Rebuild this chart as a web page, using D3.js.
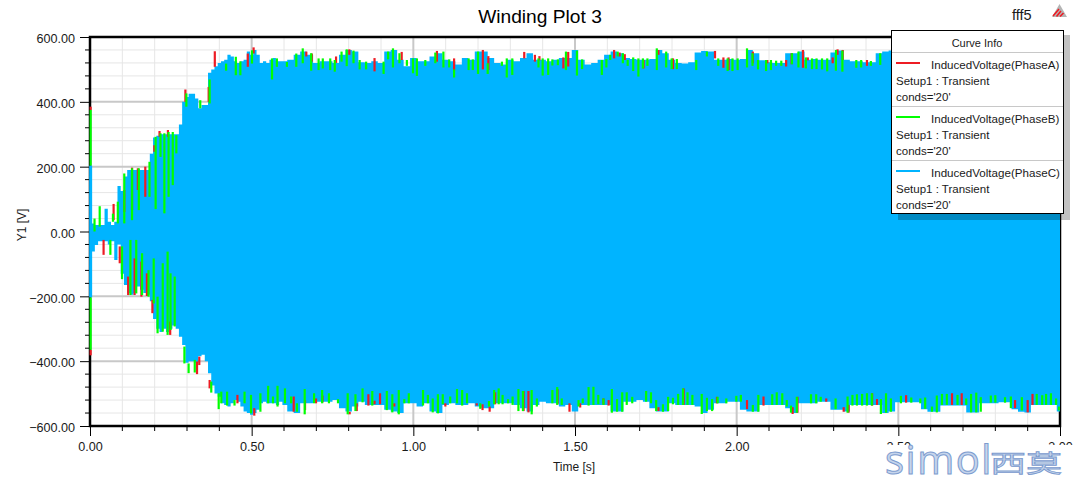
<!DOCTYPE html>
<html><head><meta charset="utf-8">
<style>html,body{margin:0;padding:0;background:#fff}svg{display:block}text{font-family:"Liberation Sans",Arial,sans-serif;fill:#1a1a1a}</style>
<script src="https://cdn.jsdelivr.net/npm/d3@7"></script></head><body>
<script>
const title="Winding Plot 3", project="fff5", xLabel="Time [s]", yLabel="Y1 [V]";
const yTicks=[600,400,200,0,-200,-400,-600];
const xTicks=[0,0.5,1,1.5,2,2.5,3];
const legendNames=["InducedVoltage(PhaseA)","InducedVoltage(PhaseB)","InducedVoltage(PhaseC)"];
const colors=["#ed1c24","#00ff00","#00b4ff"];
// Phase C envelope, 0.00-0.59 s every 0.01 s
const earlyUpper=[203,25,20,20,20,70,30,20,30,140,125,170,190,190,190,190,190,190,190,240,290,295,300,300,300,300,300,300,330,400,415,425,425,410,380,390,390,490,500,510,520,525,530,545,540,525,520,525,530,555,545,560,545,520,525,520,530,535,525,525];
const earlyLower=[-200,-62,-42,-30,-30,-30,-40,-30,-88,-40,-130,-165,-190,-195,-190,-170,-180,-190,-195,-215,-270,-300,-310,-300,-310,-300,-290,-300,-325,-350,-405,-400,-400,-405,-385,-380,-400,-437,-475,-500,-510,-530,-535,-540,-530,-520,-525,-540,-555,-560,-565,-560,-550,-530,-525,-530,-530,-530,-535,-525];
// Phase C envelope, 0.60-3.00 s every 0.02 s
const lateUpper=[525,530,545,555,545,520,525,525,520,545,560,555,522,520,525,520,555,560,530,510,535,525,525,540,550,530,525,515,535,530,555,555,535,520,515,530,525,535,550,530,530,525,530,535,535,560,530,515,520,530,545,555,550,535,532,530,530,532,560,550,530,520,518,522,552,557,555,530,530,532,530,532,560,550,528,522,520,520,550,550,555,530,532,530,530,552,558,530,525,525,522,522,550,555,558,540,530,530,545,530,540,530,525,535,540,530,530,540,535,530,525,540,545,530,530,535,540,530,525,535,535];
const lateLower=[-535,-555,-560,-530,-530,-525,-525,-525,-520,-545,-555,-540,-525,-535,-535,-535,-550,-555,-560,-530,-530,-540,-530,-555,-560,-535,-530,-535,-535,-530,-540,-545,-545,-530,-530,-530,-535,-545,-555,-535,-525,-530,-530,-540,-535,-555,-535,-535,-535,-535,-535,-555,-555,-525,-525,-520,-525,-545,-555,-555,-530,-535,-535,-535,-540,-560,-550,-530,-530,-525,-525,-550,-555,-555,-535,-535,-535,-535,-545,-560,-530,-530,-530,-525,-525,-550,-550,-555,-535,-535,-535,-535,-535,-560,-555,-527,-527,-527,-527,-548,-556,-556,-537,-537,-537,-537,-558,-558,-530,-530,-530,-527,-527,-548,-556,-558,-535,-535,-535,-535,-555];
// [time, outer peak, inner end] of the visible parts of each phase
const phaseCEdge=[[0.002,203,-203]];
const phaseBUpper=[[0.002,375,203],[.014,40,0],[.03,78,15],[.071,55,30],[.086,92,25],[.106,179,25],[.13,195,35],[.151,195,66],[.184,215,107],[.203,292,69],[.218,303,230],[.23,303,56],[.243,307,107],[.256,307,143],[.267,297,241],[.298,426,385],[.341,405,380],[.37,469,395],[.421,518,496],[.451,539,482],[.465,525,482],[.501,559,518],[.563,534,469],[.578,534,508],[.609,523,508],[.638,549,508],[.658,565,519],[.684,550,496],[.707,534,498],[.72,534,503],[.743,534,498],[.757,529,493],[.778,555,524],[.794,562,510],[.815,558,519],[.834,529,500],[.854,524,500],[.908,524,486],[.922,555,531],[.937,565,506],[.957,550,519],[.98,529,511],[.999,534,488],[1.011,534,480],[1.037,529,511],[1.068,552,519],[1.093,555,506],[1.111,531,506],[1.126,500,475],[1.171,534,498],[1.184,531,498],[1.2,555,486],[1.23,519,486],[1.274,524,511],[1.289,534,475],[1.306,534,483],[1.387,534,506],[1.4,534,481],[1.417,534,483],[1.43,531,512],[1.447,531,513],[1.472,555,498],[1.506,558,481],[1.522,531,501],[1.583,529,483],[1.597,532,506],[1.609,545,529],[1.632,555,540],[1.648,550,519],[1.663,529,511],[1.68,537,495],[1.696,534,478],[1.71,534,503],[1.724,534,511],[1.753,565,498],[1.782,555,506],[1.799,534,501],[1.815,532,501],[1.875,529,498],[1.908,555,540],[1.943,534,511],[1.972,534,495],[1.987,534,495],[2.003,534,498],[2.032,565,506],[2.049,550,511],[2.066,529,500],[2.091,529,495],[2.106,529,498],[2.122,527,511],[2.138,527,511],[2.171,550,516],[2.191,555,506],[2.214,537,503],[2.233,534,501],[2.247,534,501],[2.264,534,500],[2.28,534,494],[2.307,560,496],[2.327,558,493],[2.37,529,505],[2.385,529,506],[2.415,526,511],[2.444,550,514]];
const phaseAUpper=[[0.002,385,375],[.073,85,35],[.106,128,60],[.13,197,66],[.148,195,128],[.171,200,107],[.199,266,246],[.215,310,292],[.241,313,292],[.295,438,400],[.367,446,400],[.386,556,508],[.488,549,508],[.506,568,549],[.669,555,540],[.686,549,524],[.761,540,520],[.802,562,545],[.88,535,494],[.964,554,529],[1.073,557,524],[1.126,534,496],[1.215,560,500],[1.232,541,498],[1.343,554,534],[1.376,545,524],[1.39,541,528],[1.464,537,503],[1.479,554,509],[1.621,560,534],[1.638,552,540],[1.654,547,529],[1.712,529,503],[1.758,560,545],[1.803,534,501],[1.933,557,534],[1.959,537,505],[1.975,537,498],[2.05,555,519],[2.095,529,519],[2.153,529,509],[2.17,550,516],[2.205,560,505],[2.22,537,528],[2.297,537,519],[2.312,562,545],[2.328,560,529],[2.403,529,511]];
const phaseBLower=[[0.002,-365,-203],[.063,-72,-26],[.099,-147,-46],[.125,-196,-26],[.143,-191,-26],[.161,-196,-67],[.181,-201,-119],[.197,-222,-83],[.209,-314,-201],[.225,-309,-98],[.24,-319,-62],[.249,-304,-129],[.262,-293,-139],[.292,-407,-355],[.305,-437,-407],[.324,-435,-396],[.375,-497,-463],[.398,-548,-499],[.406,-530,-494],[.424,-537,-494],[.447,-537,-520],[.478,-530,-494],[.498,-561,-504],[.527,-556,-499],[.551,-530,-476],[.566,-530,-509],[.58,-540,-476],[.603,-530,-484],[.622,-530,-509],[.64,-556,-530],[.664,-564,-486],[.693,-530,-499],[.718,-530,-489],[.739,-530,-499],[.767,-530,-517],[.797,-564,-499],[.821,-554,-502],[.843,-527,-484],[.873,-537,-492],[.918,-551,-492],[.935,-558,-502],[.955,-564,-489],[.972,-530,-517],[.986,-530,-499],[1.03,-537,-489],[1.045,-530,-504],[1.06,-558,-515],[1.076,-561,-502],[1.091,-533,-502],[1.114,-530,-509],[1.135,-530,-486],[1.151,-537,-489],[1.166,-530,-499],[1.207,-547,-530],[1.234,-540,-523],[1.25,-533,-489],[1.264,-533,-484],[1.276,-533,-504],[1.293,-530,-517],[1.307,-535,-509],[1.325,-554,-486],[1.339,-554,-492],[1.366,-564,-489],[1.382,-540,-515],[1.43,-530,-489],[1.445,-535,-480],[1.459,-535,-515],[1.511,-540,-520],[1.524,-530,-515],[1.542,-537,-480],[1.557,-535,-479],[1.572,-533,-504],[1.588,-535,-515],[1.614,-559,-486],[1.63,-556,-517],[1.646,-556,-496],[1.66,-535,-496],[1.677,-530,-510],[1.72,-525,-492],[1.735,-530,-496],[1.751,-554,-520],[1.772,-556,-533],[1.788,-554,-510],[1.803,-533,-513],[1.819,-535,-501],[1.834,-535,-484],[1.848,-535,-496],[1.863,-535,-504],[1.892,-563,-501],[1.908,-554,-513],[1.924,-554,-517],[1.941,-530,-510],[1.968,-530,-515],[1.999,-525,-507],[2.013,-525,-504],[2.05,-556,-535],[2.067,-556,-504],[2.11,-535,-502],[2.124,-535,-496],[2.141,-535,-499],[2.155,-540,-520],[2.168,-559,-537],[2.186,-559,-510],[2.23,-530,-502],[2.246,-530,-502],[2.26,-525,-510],[2.306,-548,-515],[2.343,-559,-509],[2.358,-537,-504],[2.372,-537,-502],[2.388,-537,-501],[2.403,-537,-499],[2.418,-537,-499],[2.446,-563,-517],[2.462,-559,-499],[2.477,-556,-515],[2.508,-530,-507],[2.54,-528,-512],[2.568,-530,-515],[2.583,-547,-512],[2.604,-556,-540],[2.619,-558,-506],[2.635,-535,-501],[2.65,-535,-501],[2.683,-535,-504],[2.71,-535,-515],[2.725,-558,-501],[2.741,-558,-497],[2.755,-556,-511],[2.786,-528,-506],[2.8,-528,-505],[2.83,-528,-511],[2.848,-545,-509],[2.882,-552,-511],[2.928,-535,-501],[2.945,-535,-505],[2.957,-535,-501],[2.972,-535,-499],[2.988,-535,-515],[2.997,-552,-540]];
const phaseALower=[[0.002,-382,-365],[.042,-72,-26],[.092,-98,-46],[.118,-196,-139],[.138,-196,-83],[.159,-201,-93],[.176,-199,-129],[.193,-252,-211],[.248,-319,-278],[.331,-440,-401],[.338,-412,-386],[.37,-484,-458],[.456,-530,-504],[.508,-568,-545],[.63,-556,-509],[.665,-551,-520],[.699,-530,-515],[.719,-527,-506],[.803,-564,-556],[.825,-554,-530],[.861,-537,-502],[.88,-533,-522],[.897,-533,-499],[.941,-540,-530],[1.099,-540,-530],[1.196,-537,-530],[1.214,-551,-533],[1.236,-556,-540],[1.253,-533,-496],[1.341,-554,-492],[1.356,-558,-492],[1.446,-533,-486],[1.483,-556,-530],[1.516,-543,-530],[1.588,-533,-515],[1.604,-537,-520],[1.758,-554,-542],[1.836,-535,-484],[1.939,-530,-510],[2.032,-548,-520],[2.083,-537,-509],[2.173,-563,-542],[2.188,-559,-510],[2.277,-525,-515],[2.331,-556,-542],[2.346,-559,-535],[2.419,-537,-499],[2.434,-535,-517],[2.524,-528,-505],[2.666,-535,-499],[2.696,-535,-499],[2.861,-545,-520],[2.9,-558,-520],[2.915,-535,-501]];

const W=1081,H=480,pL=90,pR=1060,pT=37,pB=426;
const svg=d3.select("body").append("svg").attr("width",W).attr("height",H);
const x=d3.scaleLinear().domain([0,3]).range([pL,pR]);
const y=d3.scaleLinear().domain([-600,600]).range([pB,pT]);

// grid
const minorX=d3.range(0,3.0001,0.1).filter(v=>Math.abs(v*2-Math.round(v*2))>1e-6);
const minorY=d3.range(-600,600.1,40).filter(v=>v%200!==0);
const grid=svg.append("g");
grid.append("g").selectAll("line").data(minorX).join("line").attr("x1",d=>x(d)).attr("x2",d=>x(d)).attr("y1",pT).attr("y2",pB).attr("stroke","#e6e6e6");
grid.append("g").selectAll("line").data(minorY).join("line").attr("x1",pL).attr("x2",pR).attr("y1",d=>y(d)).attr("y2",d=>y(d)).attr("stroke","#e6e6e6");
grid.append("g").selectAll("line").data(xTicks.slice(1,-1)).join("line").attr("x1",d=>x(d)).attr("x2",d=>x(d)).attr("y1",pT).attr("y2",pB).attr("stroke","#c8c8c8").attr("stroke-width",2);
grid.append("g").selectAll("line").data(yTicks.slice(1,-1)).join("line").attr("x1",pL).attr("x2",pR).attr("y1",d=>y(d)).attr("y2",d=>y(d)).attr("stroke","#c8c8c8").attr("stroke-width",2);

// axes
const fmt=d3.format(".2f");
const ax=svg.append("g").attr("transform",`translate(0,${pB})`).call(d3.axisBottom(x).tickValues(xTicks).tickFormat(fmt).tickSize(10).tickPadding(6));
const ay=svg.append("g").attr("transform",`translate(${pL},0)`).call(d3.axisLeft(y).tickValues(yTicks).tickFormat(fmt).tickSize(10).tickPadding(5));
[ax,ay].forEach(a=>{a.select(".domain").remove();a.selectAll("line").attr("stroke","#000").attr("stroke-width",1);a.selectAll("text").attr("font-size",12.6).attr("font-family","Liberation Sans").style("fill","#1a1a1a");});
ay.selectAll("text").attr("dy","0.45em");
svg.append("g").selectAll("line").data(minorX).join("line").attr("x1",d=>x(d)).attr("x2",d=>x(d)).attr("y1",pB).attr("y2",pB+5).attr("stroke","#000");
svg.append("g").selectAll("line").data(minorY).join("line").attr("x1",pL-5).attr("x2",pL).attr("y1",d=>y(d)).attr("y2",d=>y(d)).attr("stroke","#000");
svg.append("rect").attr("x",pL).attr("y",pT).attr("width",pR-pL).attr("height",pB-pT).attr("fill","none").attr("stroke","#000").attr("stroke-width",2.5);

// curves
svg.append("defs").append("clipPath").attr("id","plot").append("rect").attr("x",pL-1).attr("y",pT).attr("width",pR-pL+1).attr("height",pB-pT);
const marks=svg.append("g").attr("clip-path","url(#plot)");
const env=[...earlyUpper.map((u,i)=>({t:i/100,u,l:earlyLower[i]})),...lateUpper.map((u,i)=>({t:0.6+i*0.02,u,l:lateLower[i]}))];
marks.append("path").datum(env).attr("fill",colors[2]).attr("d",d3.area().curve(d3.curveStep).x(d=>x(d.t)).y0(d=>y(d.l)).y1(d=>y(d.u)));
const stripes=(data,c,w)=>marks.append("g").selectAll("line").data(data).join("line")
  .attr("x1",d=>x(d[0])).attr("x2",d=>x(d[0])).attr("y1",d=>y(d[1])).attr("y2",d=>y(d[2])).attr("stroke",c).attr("stroke-width",w);
stripes(phaseAUpper,colors[0],2.2);stripes(phaseALower,colors[0],2.2);
stripes(phaseBUpper,colors[1],2.2);stripes(phaseBLower,colors[1],2.2);
stripes(phaseCEdge,colors[2],3);

// titles
svg.append("text").attr("x",540).attr("y",23).attr("text-anchor","middle").attr("font-size",19.2).style("fill","#000").text(title);
svg.append("text").attr("x",1012).attr("y",20).attr("font-size",14.5).text(project);
svg.append("text").attr("x",574).attr("y",471).attr("text-anchor","middle").attr("font-size",12).text(xLabel);
svg.append("text").attr("transform","translate(26,225) rotate(-90)").attr("text-anchor","middle").attr("font-size",12).text(yLabel);

// logo
svg.append("path").attr("d","M1059.5 4 L1067 17 L1052 17 Z").attr("fill","#b4b4b4");
svg.append("path").attr("d","M1053 16 L1059 9 M1056.5 16.5 L1061 11 M1060 16.5 L1063.5 13").attr("stroke","#ed1c24").attr("stroke-width",1.6).attr("fill","none");

// legend
const L=svg.append("g");
L.append("rect").attr("x",898).attr("y",35).attr("width",172).attr("height",185).attr("fill","#000").attr("opacity",0.24);
L.append("rect").attr("x",891.5).attr("y",30.5).attr("width",172).attr("height",183).attr("fill","#fff").attr("stroke","#000");
L.append("text").attr("x",977).attr("y",47).attr("text-anchor","middle").attr("font-size",11).text("Curve Info");
[0,1,2].forEach(i=>{
  const o=i*54;
  L.append("line").attr("x1",892).attr("x2",1063).attr("y1",52.5+o).attr("y2",52.5+o).attr("stroke","#c8c8c8");
  L.append("line").attr("x1",896).attr("x2",920).attr("y1",63+o).attr("y2",63+o).attr("stroke",colors[i]).attr("stroke-width",2);
  L.append("text").attr("x",931).attr("y",69+o).attr("font-size",11.6).text(legendNames[i]);
  L.append("text").attr("x",896).attr("y",85+o).attr("font-size",11.5).text("Setup1 : Transient");
  L.append("text").attr("x",896).attr("y",101+o).attr("font-size",11.5).text("conds='20'");
});

// watermark
const M=svg.append("g");
M.append("rect").attr("x",880).attr("y",445).attr("width",201).attr("height",35).attr("fill","#fff");
M.append("text").attr("x",885).attr("y",474).attr("font-size",40).attr("letter-spacing",1.5).style("font-family","Open Sans").attr("font-weight",400)
 .style("fill","#c6d5ec").attr("stroke","#7d9ccf").attr("stroke-width",1).text("simol");
M.append("text").attr("transform","translate(990,472) scale(1.5,1)").attr("font-size",24).style("font-family","Noto Sans CJK SC")
 .style("fill","#c6d5ec").attr("stroke","#7d9ccf").attr("stroke-width",0.8).text("西莫");
</script></body></html>
